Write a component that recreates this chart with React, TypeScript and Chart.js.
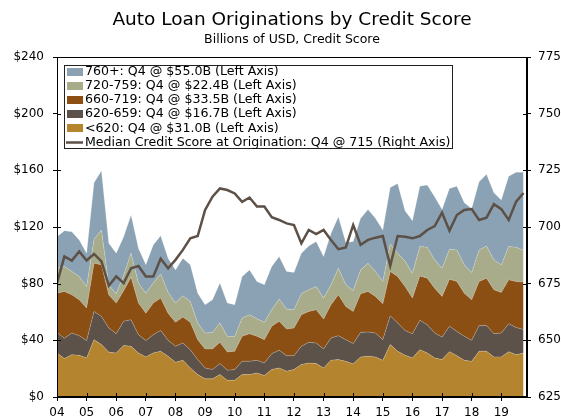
import React, { useEffect, useRef } from "react";
import { Chart, registerables } from "chart.js";
Chart.register(...registerables);

// Quarterly data, 2004 Q1 .. 2019 Q4 (Billions of USD)
const yearLabels = ["04", "05", "06", "07", "08", "09", "10", "11", "12", "13", "14", "15", "16", "17", "18", "19"];
const quarterNames = ["Q1", "Q2", "Q3", "Q4"];

const below620 = [
  31.1, 27.1, 29.9, 29.4, 27.6, 40.5, 37.0, 31.6, 31.1, 36.3,
  35.8, 31.1, 28.3, 31.1, 32.3, 28.7, 24.5, 25.9, 20.5, 15.8,
  12.8, 12.8, 15.8, 11.8, 11.8, 15.8, 15.8, 17.0, 15.1, 19.4,
  20.5, 18.2, 19.4, 22.9, 24.0, 23.6, 20.5, 25.9, 26.4, 25.2,
  23.3, 28.3, 28.7, 28.3, 25.9, 37.0, 32.3, 29.5, 27.6, 33.4,
  31.1, 27.6, 26.4, 32.0, 29.2, 25.9, 25.2, 32.3, 32.3, 28.3,
  28.3, 32.0, 29.9, 31.0,
];
const s620to659 = [
  14.5, 14.3, 15.3, 13.9, 12.2, 19.9, 19.9, 17.1, 13.6, 17.1,
  18.7, 12.9, 11.5, 12.9, 14.7, 11.3, 11.3, 12.2, 12.9, 10.6,
  7.7, 6.6, 7.8, 7.1, 7.6, 9.4, 9.4, 8.9, 8.9, 11.2,
  12.5, 11.0, 9.8, 12.9, 14.6, 14.5, 13.4, 15.7, 16.9, 15.3,
  14.4, 17.3, 17.2, 16.9, 14.6, 20.4, 19.9, 17.5, 17.1, 20.7,
  19.9, 17.6, 15.9, 17.9, 17.1, 16.9, 14.8, 18.1, 18.1, 16.4,
  16.9, 19.7, 19.2, 16.7,
];
const s660to719 = [
  27.7, 33.1, 26.9, 25.3, 23.0, 34.0, 36.4, 23.3, 21.6, 21.6,
  30.1, 22.3, 19.4, 22.3, 22.8, 19.2, 16.9, 18.3, 19.3, 14.1,
  13.4, 14.5, 15.0, 12.9, 12.9, 17.6, 19.5, 16.9, 16.5, 19.3,
  20.4, 18.8, 19.5, 22.3, 21.8, 23.5, 21.1, 23.5, 28.8, 23.4,
  22.7, 27.2, 28.6, 25.8, 25.3, 31.2, 32.8, 31.0, 25.1, 31.4,
  32.9, 31.6, 28.7, 33.3, 35.2, 30.5, 28.6, 31.1, 33.5, 31.0,
  28.6, 31.0, 32.4, 33.5,
];
const s720to759 = [
  17.6, 17.6, 16.5, 16.4, 15.2, 16.9, 24.6, 7.0, 6.6, 11.0,
  16.9, 14.1, 14.1, 14.1, 17.1, 14.8, 13.6, 15.0, 14.7, 11.7,
  11.3, 11.7, 13.6, 11.0, 10.5, 12.9, 13.4, 12.4, 12.2, 11.7,
  15.7, 14.0, 12.9, 14.7, 15.3, 16.4, 14.8, 14.1, 18.8, 15.3,
  14.7, 16.9, 19.9, 17.6, 15.7, 19.4, 16.5, 18.0, 17.6, 20.7,
  21.8, 20.0, 19.9, 21.1, 22.3, 20.0, 19.3, 22.3, 22.7, 21.1,
  19.5, 23.5, 24.2, 22.4,
];
const s760plus = [
  22.3, 25.3, 28.1, 25.9, 23.5, 39.9, 41.8, 29.5, 28.6, 27.2,
  26.9, 24.6, 20.0, 26.9, 27.0, 24.0, 23.4, 26.6, 25.9, 21.1,
  19.9, 23.0, 28.2, 23.5, 22.3, 29.3, 31.6, 26.3, 26.5, 30.5,
  30.0, 26.6, 26.3, 28.7, 30.9, 31.7, 29.3, 36.3, 36.4, 29.8,
  34.6, 36.4, 38.0, 37.5, 36.4, 39.9, 49.2, 35.5, 37.1, 42.6,
  43.9, 44.5, 41.5, 42.9, 45.0, 43.8, 45.2, 48.1, 50.7, 47.3,
  45.7, 49.7, 53.0, 55.0,
];
const medianScore = [
  675.2, 687, 685.2, 689.2, 685.2, 688.1, 684.8, 674.1, 678.2, 675.2,
  681.8, 682.8, 678.2, 678.2, 686, 681.8, 685.5, 689.9, 695, 696,
  707.5, 713.4, 717, 716.3, 714.8, 711.1, 713, 709, 709, 704.3,
  703.1, 701.6, 700.9, 692.8, 698.7, 696.9, 698.7, 694.3, 690.2, 691,
  700.9, 692.1, 694.3, 695.3, 696, 682.9, 696, 695.7, 695, 696,
  698.7, 700.4, 706.3, 698.4, 705.3, 707.5, 707.9, 703.1, 704.1, 710.1,
  707.9, 703.1, 711.2, 715,
];

const seriesLabels = [
  "760+: Q4 @ $55.0B (Left Axis)",
  "720-759: Q4 @ $22.4B (Left Axis)",
  "660-719: Q4 @ $33.5B (Left Axis)",
  "620-659: Q4 @ $16.7B (Left Axis)",
  "<620: Q4 @ $31.0B (Left Axis)",
];
const medianLabel = "Median Credit Score at Origination: Q4 @ 715 (Right Axis)";
const titleText = "Auto Loan Originations by Credit Score";
const subtitleText = "Billions of USD, Credit Score";

const leftTicks = { min: 0, max: 240, step: 40 };
const rightTicks = { min: 625, max: 775, step: 25 };

const COLORS = {
  c760: "#8aa2b3",
  c720: "#a9ac8a",
  c660: "#8b4f14",
  c620: "#5d5249",
  c0: "#b4842f",
  median: "#5d5047",
};

const FONT = '"DejaVu Sans", Verdana, sans-serif';

const quarterLabels: string[] = [];
yearLabels.forEach((y) => quarterNames.forEach((q) => quarterLabels.push("20" + y + q)));

export default function App() {
  const ref = useRef<HTMLCanvasElement>(null);

  useEffect(() => {
    document.body.style.margin = "0";
    const canvas = ref.current!;
    const toXY = (arr: number[]) => arr.map((v, i) => ({ x: i, y: v }));

    const area = (label: string, arr: number[], color: string, fill: any) => ({
      type: "line" as const,
      label,
      data: toXY(arr),
      backgroundColor: color,
      borderColor: "rgba(255,255,255,0.35)",
      borderWidth: 0.6,
      pointRadius: 0,
      fill,
      tension: 0,
      yAxisID: "y",
      stack: "areas",
    });

    const decor = {
      id: "decor",
      afterDraw(chart: any) {
        const ctx = chart.ctx as CanvasRenderingContext2D;
        const { left, right, top, bottom } = chart.chartArea;
        const sy = chart.scales.y;
        const sy1 = chart.scales.y1;
        const sx = chart.scales.x;
        ctx.save();
        ctx.strokeStyle = "#000";
        ctx.lineWidth = 1;
        // frame
        ctx.beginPath();
        ctx.moveTo(left + 0.5, top + 0.5);
        ctx.lineTo(right - 0.5, top + 0.5);
        ctx.moveTo(left + 0.5, top);
        ctx.lineTo(left + 0.5, bottom);
        ctx.moveTo(right - 0.5, top);
        ctx.lineTo(right - 0.5, bottom);
        ctx.moveTo(left, bottom - 0.5);
        ctx.lineTo(right, bottom - 0.5);
        ctx.stroke();
        // inward ticks
        ctx.beginPath();
        sy.ticks.forEach((t: any) => {
          const p = Math.round(sy.getPixelForValue(t.value)) + 0.5;
          ctx.moveTo(left, p);
          ctx.lineTo(left + 4, p);
        });
        sy1.ticks.forEach((t: any) => {
          const p = Math.round(sy1.getPixelForValue(t.value)) + 0.5;
          ctx.moveTo(right - 4, p);
          ctx.lineTo(right, p);
        });
        sx.ticks.forEach((t: any) => {
          const p = Math.round(sx.getPixelForValue(t.value)) + 0.5;
          ctx.moveTo(p, bottom);
          ctx.lineTo(p, bottom - 4);
        });
        ctx.stroke();

        // title
        const cx = (left + right) / 2;
        ctx.fillStyle = "#000";
        ctx.textAlign = "center";
        ctx.textBaseline = "middle";
        ctx.font = `18.5px ${FONT}`;
        ctx.fillText(titleText, cx, 20);
        ctx.font = `12.5px ${FONT}`;
        ctx.fillText(subtitleText, cx, 40);

        // legend
        const lx = 64, ly = 65, lw = 388, lh = 83;
        ctx.fillStyle = "#fff";
        ctx.fillRect(lx, ly, lw, lh);
        ctx.strokeStyle = "#222";
        ctx.strokeRect(lx + 0.5, ly + 0.5, lw, lh);
        const swatchColors = [COLORS.c760, COLORS.c720, COLORS.c660, COLORS.c620, COLORS.c0];
        ctx.font = `12.6px ${FONT}`;
        ctx.textAlign = "left";
        ctx.textBaseline = "middle";
        const rowY = (i: number) => 71.5 + i * 14.2;
        seriesLabels.forEach((lab, i) => {
          const y = rowY(i);
          ctx.fillStyle = swatchColors[i];
          ctx.fillRect(67, Math.round(y - 4), 16, 8);
          ctx.fillStyle = "#000";
          ctx.fillText(lab, 85, y);
        });
        const y6 = rowY(5);
        ctx.strokeStyle = COLORS.median;
        ctx.lineWidth = 2.5;
        ctx.beginPath();
        ctx.moveTo(66, y6);
        ctx.lineTo(83, y6);
        ctx.stroke();
        ctx.fillStyle = "#000";
        ctx.fillText(medianLabel, 85, y6);
        ctx.restore();
      },
    };

    const tickFont = { family: FONT, size: 12 };

    const chart = new Chart(canvas, {
      type: "line",
      data: {
        datasets: [
          area(seriesLabels[4], below620, COLORS.c0, "origin"),
          area(seriesLabels[3], s620to659, COLORS.c620, "-1"),
          area(seriesLabels[2], s660to719, COLORS.c660, "-1"),
          area(seriesLabels[1], s720to759, COLORS.c720, "-1"),
          area(seriesLabels[0], s760plus, COLORS.c760, "-1"),
          {
            type: "line",
            label: medianLabel,
            data: toXY(medianScore),
            borderColor: COLORS.median,
            borderWidth: 2.5,
            pointRadius: 0,
            fill: false,
            tension: 0,
            yAxisID: "y1",
            order: -1,
          } as any,
        ],
      },
      options: {
        animation: false,
        responsive: false,
        maintainAspectRatio: false,
        layout: { padding: { top: 57, left: 0, right: 0, bottom: 0 } },
        plugins: {
          legend: { display: false },
          title: { display: false },
          tooltip: { enabled: false },
        },
        scales: {
          x: {
            type: "linear",
            min: 0,
            max: 63.47,
            afterBuildTicks: (s: any) => {
              s.ticks = yearLabels.map((_, i) => ({ value: i * 4 }));
            },
            afterFit: (s: any) => {
              s.height = 21;
            },
            ticks: {
              autoSkip: false,
              maxRotation: 0,
              padding: 5,
              color: "#000",
              font: tickFont,
              callback: (v: any) => yearLabels[Math.round(Number(v) / 4)] ?? "",
            },
            grid: { drawOnChartArea: false, drawTicks: true, tickLength: 4, color: "#000" },
            border: { display: true, color: "#000", width: 1 },
          },
          y: {
            type: "linear",
            position: "left",
            stacked: true,
            min: leftTicks.min,
            max: leftTicks.max,
            afterFit: (s: any) => {
              s.width = 57;
            },
            ticks: {
              stepSize: leftTicks.step,
              padding: 9,
              color: "#000",
              font: tickFont,
              callback: (v: any) => "$" + v,
            },
            grid: { drawOnChartArea: false, drawTicks: true, tickLength: 4, color: "#000" },
            border: { display: true, color: "#000", width: 1 },
          },
          y1: {
            type: "linear",
            position: "right",
            stacked: false,
            min: rightTicks.min,
            max: rightTicks.max,
            afterFit: (s: any) => {
              s.width = 34;
            },
            ticks: {
              stepSize: rightTicks.step,
              padding: 7,
              color: "#000",
              font: tickFont,
            },
            grid: { drawOnChartArea: false, drawTicks: true, tickLength: 4, color: "#000" },
            border: { display: true, color: "#000", width: 1 },
          },
        },
      } as any,
      plugins: [decor],
    });
    return () => chart.destroy();
  }, []);

  return <canvas ref={ref} width={561} height={418} style={{ display: "block" }} />;
}
